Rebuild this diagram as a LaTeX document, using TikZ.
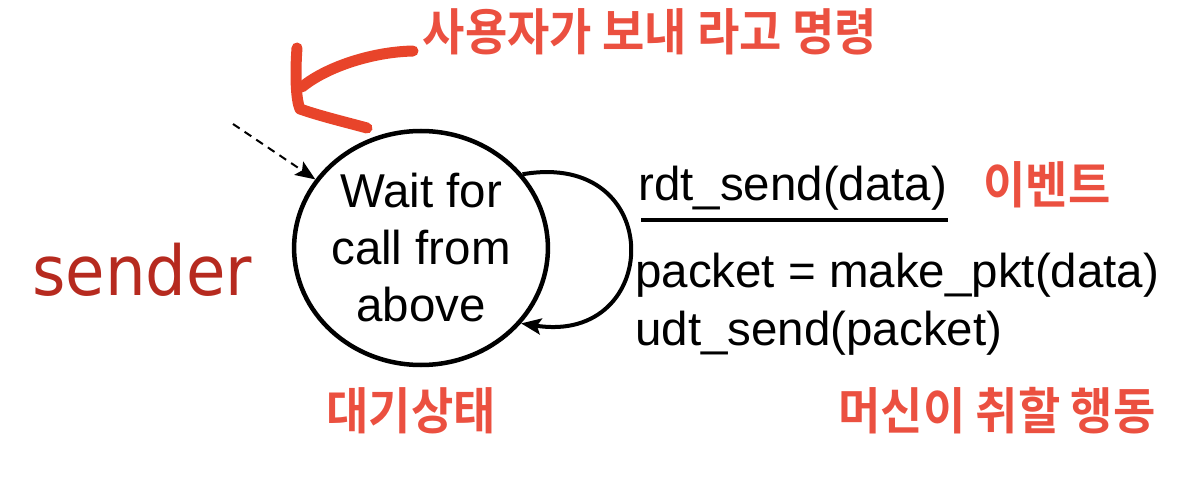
\documentclass[tikz,border=0pt]{standalone}
\usepackage{fontspec}
\setmainfont{Liberation Sans}
\newfontfamily\senderfont{DejaVu Sans}[FakeStretch=0.93]
\newfontfamily\kofont{Noto Sans CJK KR Bold}[FakeStretch=0.92]
\usepackage{tikz}
\usetikzlibrary{arrows.meta,positioning,calc,shapes.geometric}
\definecolor{sendc}{HTML}{B62A1F}
\definecolor{korc}{HTML}{EB5040}
\definecolor{penc}{HTML}{E8442A}
\tikzset{
  >={Stealth[length=20pt,width=16pt,inset=4pt]},
  state/.style={draw,ellipse,line width=4.5pt,minimum width=224pt,minimum height=234pt,inner sep=0pt,align=center,font=\fontsize{47.5}{57}\selectfont},
  lbl/.style={font=\fontsize{47.5}{57}\selectfont,anchor=base west,inner sep=0pt},
  knote/.style={font=\kofont\fontsize{50}{56}\selectfont,text=korc,inner sep=0pt},
  sname/.style={font=\senderfont\fontsize{69}{80}\selectfont,text=sendc,anchor=base west,inner sep=0pt},
  trans/.style={->,line width=4pt},
  init/.style={->,line width=2pt,dash pattern=on 8pt off 6pt},
  pen/.style={draw=penc,line width=11pt,line cap=round,line join=round},
  bar/.style={line width=4.5pt},
}
\begin{document}
\begin{tikzpicture}[x=1pt,y=-1pt]
  \useasboundingbox (0,0) rectangle (1202,500);
  % state and its transitions
  \node[state] (wait) at (421,248) {Wait for\\call from\\above};
  \coordinate (start) at (233,124);
  \draw[init] (start) -- (wait.147);
  \draw[trans] (wait.36) .. controls +(145,-25) and +(142,22) .. (wait.-37);
  % event / action label
  \node[lbl] (ev) at (638,200) {rdt\_send(data)};
  \draw[bar] ($(ev.base west)+(3,20)$) -- ($(ev.base east)+(1,20)$);
  \node[lbl] (act1) at (635,287) {packet = make\_pkt(data)};
  \node[lbl] (act2) at (635,345) {udt\_send(packet)};
  \node[sname] (snd) at (32,295) {sender};
  % hand-written notes
  \draw[pen] (413,51) .. controls (370,52) and (325,68) .. (302,87);
  \draw[pen] (297,48) .. controls (295,75) and (296,100) .. (300,109) .. controls (320,116) and (345,122) .. (367,128);
  \node[knote] (cmd) at (650,32) {사용자가 보내 라고 명령};
  \node[knote] (evt) at (1047,185) {이벤트};
  \node[knote] (wst) at (411,411) {대기상태};
  \node[knote] (actn) at (997,411) {머신이 취할 행동};
\end{tikzpicture}
\end{document}
